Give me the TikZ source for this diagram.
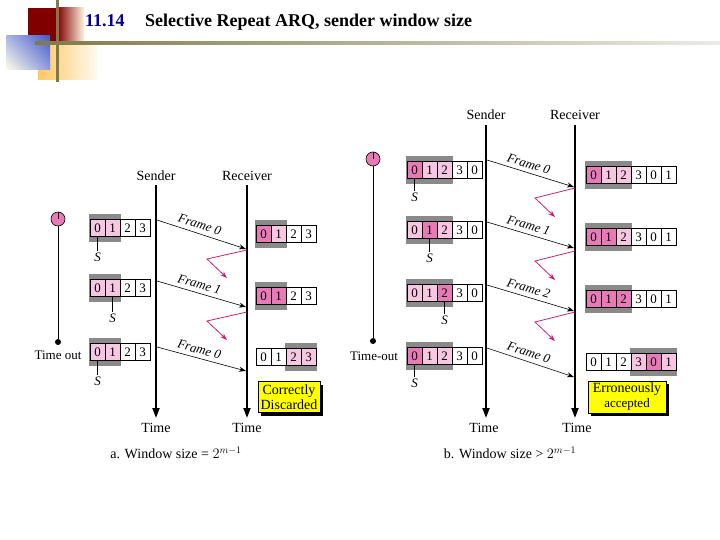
\documentclass[tikz,border=0pt]{standalone}
\usepackage{fontspec}
\setmainfont{Liberation Serif}
\usetikzlibrary{arrows.meta,shadows,shadings}

\definecolor{lpink}{RGB}{246,198,226}
\definecolor{dpink}{RGB}{232,122,184}
\definecolor{ackred}{RGB}{204,30,120}
\definecolor{wingray}{RGB}{138,138,138}
\definecolor{noteyellow}{RGB}{255,255,0}
\definecolor{barolive}{RGB}{128,122,72}
\definecolor{deepred}{RGB}{128,0,0}
\definecolor{numblue}{RGB}{0,0,150}
\definecolor{sqorange}{RGB}{255,200,100}
\definecolor{sqblue}{RGB}{70,90,200}

% window: name, x, y, first framed cell, last framed cell, cells
\newcommand{\drawwin}[6]{%
  \fill[wingray] ({#2+#4*15-1},{#3-14}) rectangle ({#2+(#5+1)*15+1},{#3+14});
  \foreach \d/\c [count=\i from 0] in {#6}
    \node[cell, fill=\c] (#1-\i) at ({#2+\i*15+7.5},#3) {\d};
}

\begin{document}
\begin{tikzpicture}[x=1pt, y=-1pt,
  cell/.style={draw, line width=0.6pt, minimum width=15pt, minimum height=17pt,
    inner sep=0pt, font=\fontsize{13}{13}\selectfont},
  timeline/.style={line width=2pt, -{Triangle[length=10pt,width=7pt]}},
  framearrow/.style={line width=0.6pt, -{Stealth[length=7pt,width=5pt]}},
  ack/.style={ackred, line width=0.8pt, -{Stealth[length=7pt,width=5pt]}},
  lbl/.style={inner sep=0pt, font=\fontsize{14}{14}\selectfont},
  flabel/.style={pos=0.45, above, sloped, inner sep=4pt, font=\itshape\fontsize{13}{13}\selectfont},
  slabel/.style={inner sep=1pt, font=\itshape\fontsize{13}{13}\selectfont},
  timer/.style={circle, draw, line width=0.6pt, fill=dpink, minimum size=14pt, inner sep=0pt},
  tdot/.style={circle, fill, minimum size=6pt, inner sep=0pt},
  note/.style={draw, fill=noteyellow, line width=0.6pt, align=center, inner sep=1pt,
    font=\fontsize{14}{15}\selectfont,
    drop shadow={shadow xshift=3pt, shadow yshift=-3pt, fill=black, opacity=1}}]

  % page
  \useasboundingbox (0,0) rectangle (720,540);
  \fill[white] (0,0) rectangle (720,540);

  % title decoration
  \fill[deepred] (28,8) rectangle (57,42);
  \shade[left color=deepred, right color=sqorange!20] (57,8) rectangle (84,42);
  \shade[left color=sqorange, right color=sqorange!10] (38,42) rectangle (97,80);
  \shade[upper left=sqblue!45, upper right=sqblue, lower left=yellow!10, lower right=sqblue!60] (6,36) rectangle (50,70);
  \fill[barolive] (55.5,0) rectangle (58.5,82);
  \shade[left color=barolive, right color=barolive!15] (35,41.5) rectangle (720,44.5);

  % title
  \node[anchor=base west, inner sep=0pt, text=numblue, font=\bfseries\fontsize{18}{18}\selectfont] (num) at (85,27) {11.14};
  \node[anchor=base west, inner sep=0pt, font=\bfseries\fontsize{18}{18}\selectfont] (title) at (145,27) {Selective Repeat ARQ, sender window size};

  % ---- a. window size = 2^(m-1)
  \node[lbl] (sa) at (156,176) {Sender};
  \node[lbl] (ra) at (247,176) {Receiver};
  \coordinate (sa-top) at (156,185); \coordinate (sa-bot) at (156,418);
  \coordinate (ra-top) at (247,185); \coordinate (ra-bot) at (247,418);
  \draw[timeline] (sa-top) -- (sa-bot);
  \draw[timeline] (ra-top) -- (ra-bot);
  \node[lbl] (ta-s) at (156,428) {Time};
  \node[lbl] (ta-r) at (247,428) {Time};

  % timer
  \node[timer] (tma) at (58,219) {};
  \draw[line width=0.5pt] (tma.north) -- (tma.center);
  \node[tdot] (tma-d) at (58,342) {};
  \draw[line width=0.8pt] (tma) -- (tma-d);
  \node[lbl, font=\fontsize{13}{13}\selectfont] (tma-l) at (58,355) {Time out};

  % sender windows
  \drawwin{wa1}{90}{228}{0}{1}{0/lpink,1/lpink,2/white,3/white}
  \drawwin{wa2}{90}{288}{0}{1}{0/lpink,1/lpink,2/white,3/white}
  \drawwin{wa3}{90}{352}{0}{1}{0/lpink,1/lpink,2/white,3/white}
  \foreach \w/\c/\y in {wa1/0/257, wa2/1/318, wa3/0/381} {
    \node[slabel] (\w-s) at (\w-\c |- 0,\y) {S};
    \draw[line width=0.5pt] (\w-\c.south) -- (\w-s.north);
  }

  % receiver windows
  \drawwin{ra1}{256}{234}{0}{1}{0/dpink,1/lpink,2/white,3/white}
  \drawwin{ra2}{256}{296}{0}{1}{0/dpink,1/dpink,2/white,3/white}
  \drawwin{ra3}{256}{357}{2}{3}{0/white,1/white,2/lpink,3/lpink}

  % frames
  \foreach \n/\ys/\ye/\f in {1/220/249/0, 2/281/307/1, 3/347/371/0} {
    \coordinate (fa\n-s) at (157,\ys);
    \coordinate (fa\n-e) at (246,\ye);
    \draw[framearrow] (fa\n-s) -- node[flabel] {Frame \f} (fa\n-e);
  }

  % lost acks
  \coordinate (ka1) at (247,250);
  \coordinate (ka2) at (247,312);
  \draw[ack] (ka1) -- ++(-40,9) -- ++(20,19);
  \draw[ack] (ka2) -- ++(-40,9) -- ++(20,19);

  \node[note, minimum width=62pt, minimum height=31pt] (na) at (289,397) {Correctly\\Discarded};
  \node[inner sep=0pt, font=\fontsize{14}{14}\selectfont] (cap-a) at (176,453) {a. Window size = $2^{m-1}$};

  % ---- b. window size > 2^(m-1)
  \node[lbl] (sb) at (486,115) {Sender};
  \node[lbl] (rb) at (575,115) {Receiver};
  \coordinate (sb-top) at (486,125); \coordinate (sb-bot) at (486,418);
  \coordinate (rb-top) at (575,125); \coordinate (rb-bot) at (575,418);
  \draw[timeline] (sb-top) -- (sb-bot);
  \draw[timeline] (rb-top) -- (rb-bot);
  \node[lbl] (tb-s) at (484,428) {Time};
  \node[lbl] (tb-r) at (577,428) {Time};

  % timer
  \node[timer] (tmb) at (373,159) {};
  \draw[line width=0.5pt] (tmb.north) -- (tmb.center);
  \node[tdot] (tmb-d) at (373,341) {};
  \draw[line width=0.8pt] (tmb) -- (tmb-d);
  \node[lbl, font=\fontsize{13}{13}\selectfont] (tmb-l) at (374,356) {Time-out};

  % sender windows
  \drawwin{wb1}{407}{170}{0}{2}{0/dpink,1/lpink,2/lpink,3/white,0/white}
  \drawwin{wb2}{407}{230}{0}{2}{0/lpink,1/dpink,2/lpink,3/white,0/white}
  \drawwin{wb3}{407}{293}{0}{2}{0/lpink,1/lpink,2/dpink,3/white,0/white}
  \drawwin{wb4}{407}{356}{0}{2}{0/dpink,1/lpink,2/lpink,3/white,0/white}
  \foreach \w/\c/\y in {wb1/0/197, wb2/1/258, wb3/2/320, wb4/0/383} {
    \node[slabel] (\w-s) at (\w-\c |- 0,\y) {S};
    \draw[line width=0.5pt] (\w-\c.south) -- (\w-s.north);
  }

  % receiver windows
  \drawwin{rb1}{586}{175}{0}{2}{0/dpink,1/lpink,2/lpink,3/white,0/white,1/white}
  \drawwin{rb2}{586}{237}{0}{2}{0/dpink,1/dpink,2/lpink,3/white,0/white,1/white}
  \drawwin{rb3}{586}{299}{0}{2}{0/dpink,1/dpink,2/dpink,3/white,0/white,1/white}
  \drawwin{rb4}{586}{362}{3}{5}{0/white,1/white,2/white,3/lpink,0/dpink,1/lpink}

  % frames
  \foreach \n/\ys/\ye/\f in {1/160/187/0, 2/222/248/1, 3/285/311/2, 4/348/377/0} {
    \coordinate (fb\n-s) at (487,\ys);
    \coordinate (fb\n-e) at (574,\ye);
    \draw[framearrow] (fb\n-s) -- node[flabel] {Frame \f} (fb\n-e);
  }

  % lost acks
  \foreach \n/\y in {1/188, 2/251, 3/312} {
    \coordinate (kb\n) at (575,\y);
    \draw[ack] (kb\n) -- ++(-40,10) -- ++(20,19);
  }

  \node[note, minimum width=78pt, minimum height=32pt] (nb) at (627,397) {Erroneously\\{\fontsize{13}{13}\selectfont accepted}};
  \node[inner sep=0pt, font=\fontsize{14}{14}\selectfont] (cap-b) at (510,453) {b. Window size > $2^{m-1}$};
\end{tikzpicture}
\end{document}
